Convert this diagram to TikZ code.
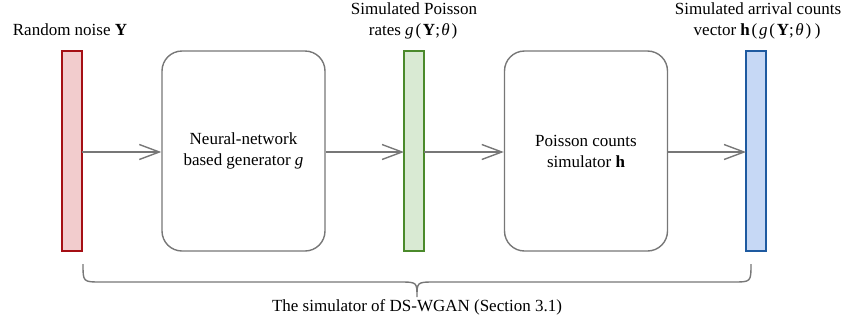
\documentclass[tikz,border=0pt]{standalone}
\usepackage{fontspec}
\setmainfont{Liberation Serif}
\usetikzlibrary{arrows.meta}
\definecolor{redfill}{HTML}{F2CCCD}
\definecolor{redline}{HTML}{A50F14}
\definecolor{greenfill}{HTML}{D9EAD3}
\definecolor{greenline}{HTML}{4B8A2B}
\definecolor{bluefill}{HTML}{C6D8F5}
\definecolor{blueline}{HTML}{1E5AA0}
\definecolor{linegray}{HTML}{777777}
\newcommand{\myLP}{\kern1.8pt(\kern1.8pt}
\newcommand{\myRP}{\kern1.8pt)\kern1.8pt}
\newcommand{\mySC}{;\kern1.5pt}
\tikzset{
  bar/.style={line width=1.6pt},
  procbox/.style={draw=linegray, line width=1.4pt, rounded corners=20pt, minimum width=163pt, minimum height=200pt, align=center, inner sep=0pt, font=\rmfamily\fontsize{17}{21}\selectfont},
  conn/.style={draw=linegray, line width=1.4pt, -{Straight Barb[length=20pt,width=15pt,line width=1.4pt]}},
  lbl/.style={align=center, inner sep=0pt, font=\rmfamily\fontsize{17}{21}\selectfont},
}
\begin{document}
\begin{tikzpicture}[x=1pt,y=-1pt]
\useasboundingbox (0,0) rectangle (847,322);
% bars
\draw[bar, draw=redline, fill=redfill] (62,51) rectangle (82,251);
\draw[bar, draw=greenline, fill=greenfill] (404,51) rectangle (424,251);
\draw[bar, draw=blueline, fill=bluefill] (746,51) rectangle (766,251);
\coordinate (r) at (82,152);
\coordinate (gl) at (404,152);
\coordinate (gr) at (424,152);
\coordinate (bl) at (746,152);
% boxes
\node[procbox] (gen) at (243.5,151) {Neural-network\\based generator \textit{g}};
\node[procbox] (sim) at (586,151) {Poisson counts\\simulator \textbf{h}};
% connectors
\draw[conn] (r) -- (gen.west |- r);
\draw[conn] (gen.east |- gl) -- (gl);
\draw[conn] (gr) -- (sim.west |- gr);
\draw[conn] (sim.east |- bl) -- (bl);
% labels
\node[lbl] (l1) at (70,30) {Random noise \textbf{Y}};
\node[lbl] (l2) at (414,21) {Simulated Poisson\\rates \textit{g}\myLP\textbf{Y}\mySC\textit{θ}\myRP};
\node[lbl] (l3) at (758,21) {Simulated arrival counts\\vector \textbf{h}\myLP\textit{g}\myLP\textbf{Y}\mySC\textit{θ}\myRP\myRP};
% brace
\draw[draw=linegray, line width=1.4pt]
  (83,264) .. controls (83,282) and (83,282) .. (101,282) -- (399,282)
  .. controls (417,282) and (417,282) .. (417,297)
  .. controls (417,282) and (417,282) .. (435,282) -- (733,282)
  .. controls (751,282) and (751,282) .. (751,264);
\node[lbl] (cap) at (417,307) {The simulator of DS-WGAN (Section 3.1)};
\end{tikzpicture}
\end{document}
